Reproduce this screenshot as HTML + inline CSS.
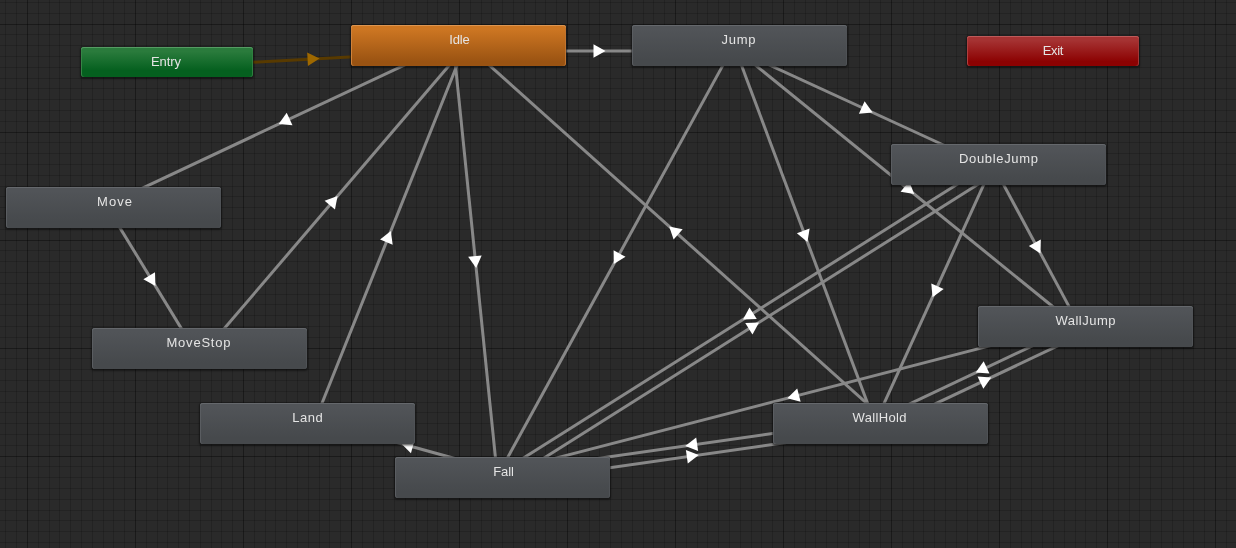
<!DOCTYPE html><html><head><meta charset="utf-8"><style>
html,body{margin:0;padding:0;background:#2a2a2a;width:1236px;height:548px;overflow:hidden}
svg{position:absolute;left:0;top:0}
.n{position:absolute;box-sizing:border-box;border-radius:3px;font-family:"Liberation Sans",sans-serif;font-size:13px;color:#e4e4e4;text-align:center;white-space:nowrap}
.n span{position:absolute;left:0;right:0;top:7px;line-height:15px;will-change:transform}
.gray{background:linear-gradient(#515458 10%,#46494c 85%);box-shadow:inset 0 1px 0 #65686c,inset 1px 0 0 #5a5d61,inset -1px 0 0 #4f5256,0 0 0 1px rgba(18,18,18,.25),0 1px 2px 0.5px rgba(0,0,0,.42)}
.orange{background:linear-gradient(#cd7622 10%,#9a5312 90%);box-shadow:inset 0 1px 0 #dc9550,inset 1px 0 0 #d0823a,inset -1px 0 0 #c07430,0 0 0 1px rgba(18,18,18,.25),0 1px 2px 0.5px rgba(0,0,0,.42)}
.green{background:linear-gradient(#2a7b3c 15%,#05601f 78%);box-shadow:inset 0 1px 0 #559b63,inset 1px 0 0 #358545,inset -1px 0 0 #2f7f40,0 0 0 1px rgba(18,18,18,.25),0 1px 2px 0.5px rgba(0,0,0,.42)}
.red{background:linear-gradient(#a53232 15%,#8c0202 85%);box-shadow:inset 0 1px 0 #bd5a5a,inset 1px 0 0 #ad4040,inset -1px 0 0 #a03838,0 0 0 1px rgba(18,18,18,.25),0 1px 2px 0.5px rgba(0,0,0,.42)}
</style></head><body>
<svg width="1236" height="548" shape-rendering="crispEdges">
<path d="M5 0h1v548h-1zM16 0h1v548h-1zM38 0h1v548h-1zM49 0h1v548h-1zM59 0h1v548h-1zM70 0h1v548h-1zM81 0h1v548h-1zM92 0h1v548h-1zM103 0h1v548h-1zM113 0h1v548h-1zM124 0h1v548h-1zM146 0h1v548h-1zM157 0h1v548h-1zM167 0h1v548h-1zM178 0h1v548h-1zM189 0h1v548h-1zM200 0h1v548h-1zM211 0h1v548h-1zM221 0h1v548h-1zM232 0h1v548h-1zM254 0h1v548h-1zM265 0h1v548h-1zM275 0h1v548h-1zM286 0h1v548h-1zM297 0h1v548h-1zM308 0h1v548h-1zM319 0h1v548h-1zM329 0h1v548h-1zM340 0h1v548h-1zM362 0h1v548h-1zM373 0h1v548h-1zM383 0h1v548h-1zM394 0h1v548h-1zM405 0h1v548h-1zM416 0h1v548h-1zM427 0h1v548h-1zM437 0h1v548h-1zM448 0h1v548h-1zM470 0h1v548h-1zM481 0h1v548h-1zM491 0h1v548h-1zM502 0h1v548h-1zM513 0h1v548h-1zM524 0h1v548h-1zM535 0h1v548h-1zM545 0h1v548h-1zM556 0h1v548h-1zM578 0h1v548h-1zM589 0h1v548h-1zM599 0h1v548h-1zM610 0h1v548h-1zM621 0h1v548h-1zM632 0h1v548h-1zM643 0h1v548h-1zM653 0h1v548h-1zM664 0h1v548h-1zM686 0h1v548h-1zM697 0h1v548h-1zM707 0h1v548h-1zM718 0h1v548h-1zM729 0h1v548h-1zM740 0h1v548h-1zM751 0h1v548h-1zM761 0h1v548h-1zM772 0h1v548h-1zM794 0h1v548h-1zM805 0h1v548h-1zM815 0h1v548h-1zM826 0h1v548h-1zM837 0h1v548h-1zM848 0h1v548h-1zM859 0h1v548h-1zM869 0h1v548h-1zM880 0h1v548h-1zM902 0h1v548h-1zM913 0h1v548h-1zM923 0h1v548h-1zM934 0h1v548h-1zM945 0h1v548h-1zM956 0h1v548h-1zM967 0h1v548h-1zM977 0h1v548h-1zM988 0h1v548h-1zM1010 0h1v548h-1zM1021 0h1v548h-1zM1031 0h1v548h-1zM1042 0h1v548h-1zM1053 0h1v548h-1zM1064 0h1v548h-1zM1075 0h1v548h-1zM1085 0h1v548h-1zM1096 0h1v548h-1zM1118 0h1v548h-1zM1129 0h1v548h-1zM1139 0h1v548h-1zM1150 0h1v548h-1zM1161 0h1v548h-1zM1172 0h1v548h-1zM1183 0h1v548h-1zM1193 0h1v548h-1zM1204 0h1v548h-1zM1226 0h1v548h-1z" fill="#000" fill-opacity="0.15"/>
<path d="M0 2h1236v1h-1236zM0 13h1236v1h-1236zM0 34h1236v1h-1236zM0 45h1236v1h-1236zM0 56h1236v1h-1236zM0 67h1236v1h-1236zM0 78h1236v1h-1236zM0 88h1236v1h-1236zM0 99h1236v1h-1236zM0 110h1236v1h-1236zM0 121h1236v1h-1236zM0 142h1236v1h-1236zM0 153h1236v1h-1236zM0 164h1236v1h-1236zM0 175h1236v1h-1236zM0 186h1236v1h-1236zM0 196h1236v1h-1236zM0 207h1236v1h-1236zM0 218h1236v1h-1236zM0 229h1236v1h-1236zM0 250h1236v1h-1236zM0 261h1236v1h-1236zM0 272h1236v1h-1236zM0 283h1236v1h-1236zM0 294h1236v1h-1236zM0 304h1236v1h-1236zM0 315h1236v1h-1236zM0 326h1236v1h-1236zM0 337h1236v1h-1236zM0 358h1236v1h-1236zM0 369h1236v1h-1236zM0 380h1236v1h-1236zM0 391h1236v1h-1236zM0 402h1236v1h-1236zM0 412h1236v1h-1236zM0 423h1236v1h-1236zM0 434h1236v1h-1236zM0 445h1236v1h-1236zM0 466h1236v1h-1236zM0 477h1236v1h-1236zM0 488h1236v1h-1236zM0 499h1236v1h-1236zM0 510h1236v1h-1236zM0 520h1236v1h-1236zM0 531h1236v1h-1236zM0 542h1236v1h-1236z" fill="#000" fill-opacity="0.15"/>
<path d="M27 0h1v548h-1zM135 0h1v548h-1zM243 0h1v548h-1zM351 0h1v548h-1zM459 0h1v548h-1zM567 0h1v548h-1zM675 0h1v548h-1zM783 0h1v548h-1zM891 0h1v548h-1zM999 0h1v548h-1zM1107 0h1v548h-1zM1215 0h1v548h-1z" fill="#000" fill-opacity="0.38"/>
<path d="M0 24h1236v1h-1236zM0 132h1236v1h-1236zM0 240h1236v1h-1236zM0 348h1236v1h-1236zM0 456h1236v1h-1236z" fill="#000" fill-opacity="0.38"/>
</svg>
<svg width="1236" height="548">
<line x1="167.80" y1="66.89" x2="459.30" y2="50.99" stroke="#583a00" stroke-width="3"/>
<polygon points="319.54,58.62 307.93,66.06 307.19,52.48" fill="#9e6800"/>
<line x1="459.00" y1="51.00" x2="740.00" y2="51.00" stroke="#888888" stroke-width="3"/>
<polygon points="605.50,51.00 593.50,57.80 593.50,44.20" fill="#ffffff"/>
<line x1="456.66" y1="40.52" x2="111.66" y2="202.52" stroke="#888888" stroke-width="3"/>
<polygon points="278.73,124.07 286.70,112.82 292.48,125.13" fill="#ffffff"/>
<line x1="204.18" y1="352.07" x2="463.18" y2="49.07" stroke="#888888" stroke-width="3"/>
<polygon points="337.58,196.01 334.95,209.55 324.61,200.72" fill="#ffffff"/>
<line x1="313.11" y1="425.54" x2="464.11" y2="47.54" stroke="#888888" stroke-width="3"/>
<polygon points="390.83,230.97 392.70,244.63 380.07,239.59" fill="#ffffff"/>
<line x1="453.53" y1="46.06" x2="497.53" y2="478.06" stroke="#888888" stroke-width="3"/>
<polygon points="476.14,268.03 468.16,256.78 481.69,255.40" fill="#ffffff"/>
<line x1="884.67" y1="419.40" x2="462.67" y2="41.40" stroke="#888888" stroke-width="3"/>
<polygon points="669.20,226.40 682.68,229.34 673.60,239.47" fill="#ffffff"/>
<line x1="109.30" y1="210.36" x2="195.30" y2="351.36" stroke="#888888" stroke-width="3"/>
<polygon points="155.43,285.99 143.37,279.28 154.99,272.20" fill="#ffffff"/>
<line x1="737.70" y1="50.50" x2="996.70" y2="169.50" stroke="#888888" stroke-width="3"/>
<polygon points="872.66,112.50 858.91,113.67 864.59,101.31" fill="#ffffff"/>
<line x1="735.18" y1="42.85" x2="498.18" y2="474.85" stroke="#888888" stroke-width="3"/>
<polygon points="613.79,264.11 613.60,250.32 625.53,256.86" fill="#ffffff"/>
<line x1="734.85" y1="47.42" x2="875.85" y2="425.42" stroke="#888888" stroke-width="3"/>
<polygon points="807.44,242.04 796.88,233.18 809.62,228.42" fill="#ffffff"/>
<line x1="736.53" y1="49.77" x2="1082.53" y2="330.77" stroke="#888888" stroke-width="3"/>
<polygon points="914.19,194.05 900.59,191.77 909.16,181.21" fill="#ffffff"/>
<line x1="994.15" y1="167.10" x2="1081.15" y2="329.10" stroke="#888888" stroke-width="3"/>
<polygon points="1040.49,253.39 1028.83,246.03 1040.81,239.60" fill="#ffffff"/>
<line x1="993.99" y1="162.22" x2="875.99" y2="421.22" stroke="#888888" stroke-width="3"/>
<polygon points="932.51,297.18 931.29,283.44 943.67,289.08" fill="#ffffff"/>
<line x1="996.06" y1="159.85" x2="500.06" y2="472.85" stroke="#888888" stroke-width="3"/>
<polygon points="742.99,319.55 749.51,307.40 756.77,318.90" fill="#ffffff"/>
<line x1="505.94" y1="482.15" x2="1001.94" y2="169.15" stroke="#888888" stroke-width="3"/>
<polygon points="759.01,322.45 752.49,334.60 745.23,323.10" fill="#ffffff"/>
<line x1="1084.62" y1="321.18" x2="501.62" y2="472.18" stroke="#888888" stroke-width="3"/>
<polygon points="787.31,398.18 797.22,388.59 800.63,401.75" fill="#ffffff"/>
<line x1="1083.65" y1="321.53" x2="878.65" y2="418.53" stroke="#888888" stroke-width="3"/>
<polygon points="975.72,372.59 983.66,361.32 989.48,373.61" fill="#ffffff"/>
<line x1="883.35" y1="428.47" x2="1088.35" y2="331.47" stroke="#888888" stroke-width="3"/>
<polygon points="991.28,377.41 983.34,388.68 977.52,376.39" fill="#ffffff"/>
<line x1="880.22" y1="418.06" x2="502.22" y2="472.06" stroke="#888888" stroke-width="3"/>
<polygon points="685.28,445.90 696.20,437.48 698.12,450.94" fill="#ffffff"/>
<line x1="503.78" y1="482.94" x2="881.78" y2="428.94" stroke="#888888" stroke-width="3"/>
<polygon points="698.72,455.10 687.80,463.52 685.88,450.06" fill="#ffffff"/>
<line x1="504.47" y1="472.20" x2="309.47" y2="418.20" stroke="#888888" stroke-width="3"/>
<polygon points="401.19,443.60 414.56,440.25 410.94,453.35" fill="#ffffff"/>
</svg>
<div class="n green" style="left:81px;top:47px;width:172px;height:30px"><span style="letter-spacing:-0.10px;text-indent:-0.10px;left:-0.70px;right:0.70px">Entry</span></div>
<div class="n red" style="left:967px;top:36px;width:172px;height:30px"><span style="letter-spacing:-0.33px;text-indent:-0.33px;left:-0.50px;right:0.50px">Exit</span></div>
<div class="n orange" style="left:351px;top:25px;width:215px;height:41px"><span style="letter-spacing:-0.13px;text-indent:-0.13px;left:0.50px;right:-0.50px">Idle</span></div>
<div class="n gray" style="left:632px;top:25px;width:215px;height:41px"><span style="letter-spacing:0.67px;text-indent:0.67px;left:-1.20px;right:1.20px">Jump</span></div>
<div class="n gray" style="left:891px;top:144px;width:215px;height:41px"><span style="letter-spacing:0.66px;text-indent:0.66px;left:0.35px;right:-0.35px">DoubleJump</span></div>
<div class="n gray" style="left:6px;top:187px;width:215px;height:41px"><span style="letter-spacing:1.00px;text-indent:1.00px;left:0.50px;right:-0.50px">Move</span></div>
<div class="n gray" style="left:92px;top:328px;width:215px;height:41px"><span style="letter-spacing:0.79px;text-indent:0.79px;left:-0.95px;right:0.95px">MoveStop</span></div>
<div class="n gray" style="left:978px;top:306px;width:215px;height:41px"><span style="letter-spacing:0.49px;text-indent:0.49px;left:-0.20px;right:0.20px">WallJump</span></div>
<div class="n gray" style="left:200px;top:403px;width:215px;height:41px"><span style="letter-spacing:0.53px;text-indent:0.53px;left:0.45px;right:-0.45px">Land</span></div>
<div class="n gray" style="left:773px;top:403px;width:215px;height:41px"><span style="letter-spacing:0.33px;text-indent:0.33px;left:-1.35px;right:1.35px">WallHold</span></div>
<div class="n gray" style="left:395px;top:457px;width:215px;height:41px"><span style="letter-spacing:-0.10px;text-indent:-0.10px;left:0.50px;right:-0.50px">Fall</span></div>
</body></html>
